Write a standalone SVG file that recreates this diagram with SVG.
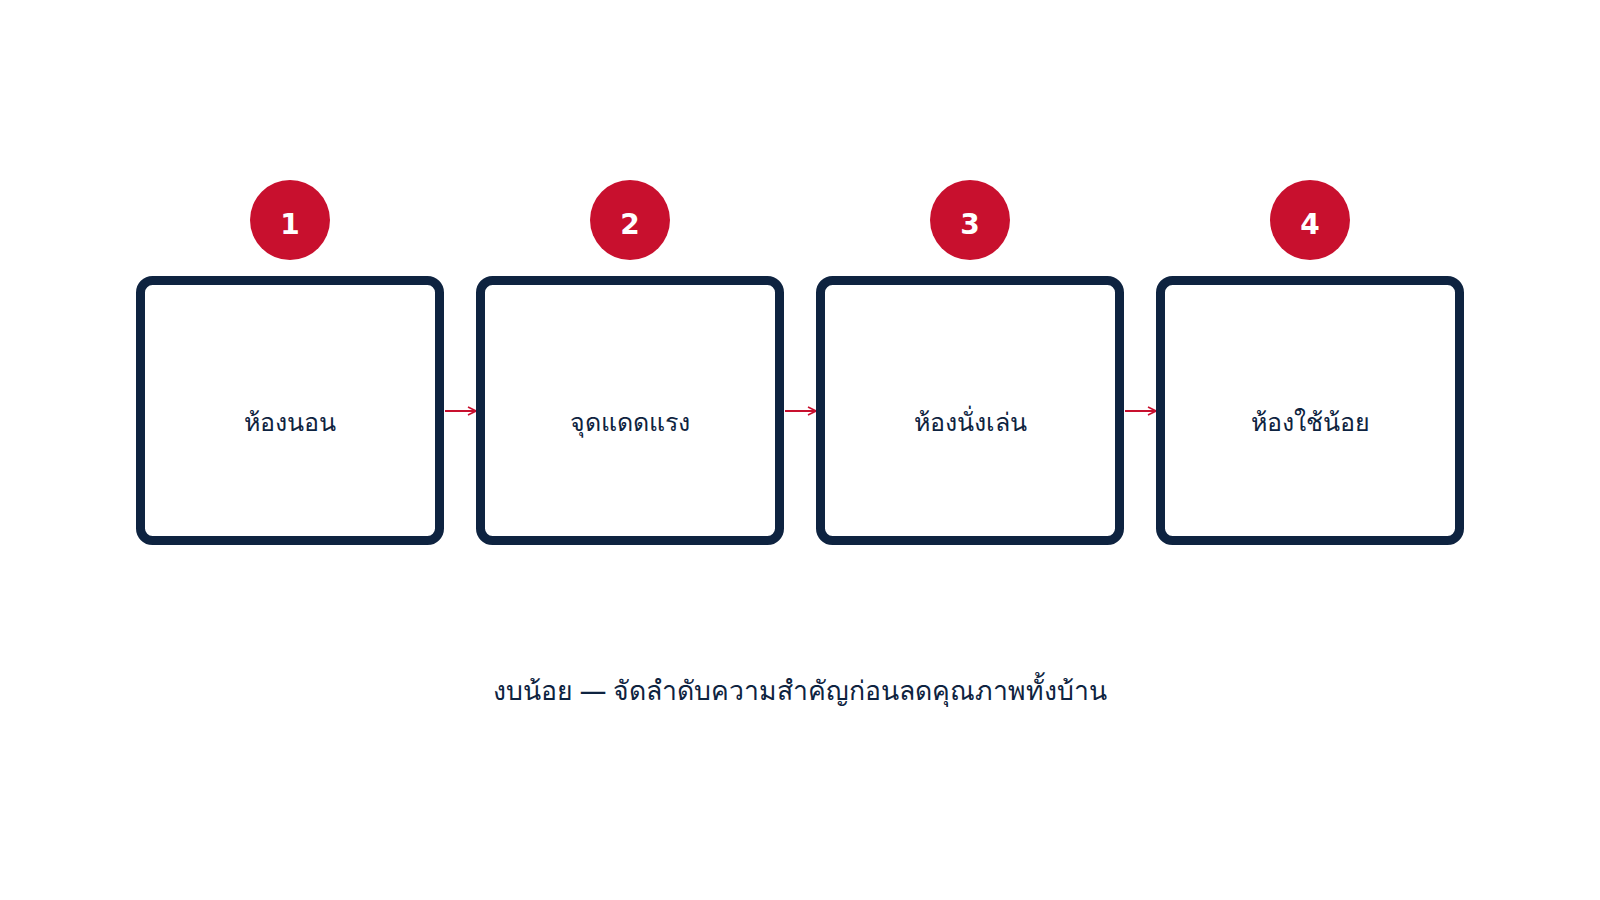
<svg xmlns="http://www.w3.org/2000/svg" width="1600" height="900" viewBox="0 0 1600 900">
<style>
.box{fill:#ffffff;stroke:#0e2340;stroke-width:9}
.badge{fill:#c8102e}
.num{font-family:"DejaVu Sans","Noto Sans",sans-serif;font-weight:bold;font-size:28px;fill:#ffffff;text-anchor:middle}
.lbl{font-family:"Noto Sans","DejaVu Sans",sans-serif;font-size:25px;font-weight:500;fill:#0e2340;text-anchor:middle}
.cap{font-family:"Noto Sans","DejaVu Sans",sans-serif;font-size:26.6px;fill:#0e2340;text-anchor:middle}
.conn{stroke:#c8102e;stroke-width:2;fill:none}
</style>
<defs>
<marker id="arr" viewBox="0 0 10 10" refX="9" refY="5" markerWidth="10" markerHeight="10" markerUnits="userSpaceOnUse" orient="auto">
<path d="M1,1 L9,5 L1,9" fill="none" stroke="#c8102e" stroke-width="1.6"/>
</marker>
</defs>
<rect width="1600" height="900" fill="#ffffff"/>
<g id="connectors">
<line class="conn" x1="445" y1="411" x2="476" y2="411" marker-end="url(#arr)"/>
<line class="conn" x1="785" y1="411" x2="816" y2="411" marker-end="url(#arr)"/>
<line class="conn" x1="1125" y1="411" x2="1156" y2="411" marker-end="url(#arr)"/>
</g>
<g id="node1">
<rect class="box" x="140.5" y="280.5" width="299" height="260" rx="12"/>
<circle class="badge" cx="290" cy="220" r="40"/>
<text class="num" x="290" y="234">1</text>
<text class="lbl" x="290" y="431">ห้องนอน</text>
</g>
<g id="node2">
<rect class="box" x="480.5" y="280.5" width="299" height="260" rx="12"/>
<circle class="badge" cx="630" cy="220" r="40"/>
<text class="num" x="630" y="234">2</text>
<text class="lbl" x="630" y="431">จุดแดดแรง</text>
</g>
<g id="node3">
<rect class="box" x="820.5" y="280.5" width="299" height="260" rx="12"/>
<circle class="badge" cx="970" cy="220" r="40"/>
<text class="num" x="970" y="234">3</text>
<text class="lbl" x="970" y="431">ห้องนั่งเล่น</text>
</g>
<g id="node4">
<rect class="box" x="1160.5" y="280.5" width="299" height="260" rx="12"/>
<circle class="badge" cx="1310" cy="220" r="40"/>
<text class="num" x="1310" y="234">4</text>
<text class="lbl" x="1310" y="431">ห้องใช้น้อย</text>
</g>
<text class="cap" x="800" y="700">งบน้อย — จัดลำดับความสำคัญก่อนลดคุณภาพทั้งบ้าน</text>
</svg>
